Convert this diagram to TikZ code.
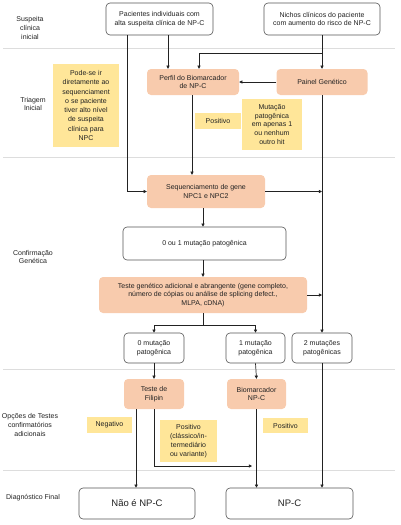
\documentclass[tikz,border=0pt]{standalone}
\usepackage{fontspec}
\setmainfont{Liberation Sans}
\usetikzlibrary{arrows.meta,calc}
\definecolor{peach}{HTML}{F8CBAD}
\definecolor{note}{HTML}{FFE699}
\definecolor{txt}{HTML}{222222}
\definecolor{sep}{HTML}{DDDDDD}
\definecolor{bord}{HTML}{555555}
\tikzset{
  base/.style={align=center, text=txt, font=\fontsize{7}{8.8}\selectfont, inner sep=1pt},
  wbox/.style={base, draw=bord, line width=0.6pt, fill=white, rounded corners=4pt, minimum width=#1},
  pbox/.style={base, fill=peach, rounded corners=4pt, minimum width=#1},
  nbox/.style={base, fill=note, minimum width=#1},
  lab/.style={base},
  conn/.style={draw=txt, line width=0.7pt, -{Triangle[length=3.2pt,width=3.2pt]}},
  plain/.style={draw=txt, line width=0.7pt},
  sepline/.style={draw=sep, line width=1pt}
}
\begin{document}
\begin{tikzpicture}[x=1pt,y=-1pt]
\useasboundingbox (0,0) rectangle (400,525);
% separators
\foreach \yy in {48,157,369,470} \draw[sepline] (3,\yy) -- (395,\yy);
% lane labels
\node[lab] (l1) at (30,28) {Suspeita\\clínica\\inicial};
\node[lab] (l2) at (33,104) {Triagem\\Inicial};
\node[lab] (l3) at (33,257) {Confirmação\\Genética};
\node[lab] (l4) at (30,425) {Opções de Testes\\confirmatórios\\adicionais};
\node[lab] (l5) at (33,498) {Diagnóstico Final};
% top boxes
\node[wbox=107pt, minimum height=32pt] (pac) at (159.5,19) {Pacientes individuais com\\alta suspeita clínica de NP-C};
\node[wbox=116pt, minimum height=32pt] (nic) at (322,19) {Nichos clínicos do paciente\\com aumento do risco de NP-C};
% triagem
\node[pbox=92pt, minimum height=26pt] (perfil) at (193,82) {Perfil do Biomarcador\\de NP-C};
\node[pbox=91pt, minimum height=26pt] (painel) at (322,82) {Painel Genético};
\node[nbox=66pt, minimum height=83pt, font=\fontsize{7}{9.3}\selectfont] (note1) at (86,105.5) {Pode-se ir\\diretamente ao\\sequenciament\\o se paciente\\tiver alto nível\\de suspeita\\clínica para\\NPC};
\node[nbox=46pt, minimum height=16pt] (pos1) at (218,121) {Positivo};
\node[nbox=60pt, minimum height=51pt] (mut) at (272,124.5) {Mutação\\patogênica\\em apenas 1\\ou nenhum\\outro hit};
% confirmação
\node[pbox=118pt, minimum height=33pt] (seq) at (206,191.5) {Sequenciamento de gene\\NPC1 e NPC2};
\node[wbox=163pt, minimum height=33pt] (zero1) at (204.5,243.5) {0 ou 1 mutação patogênica};
\node[pbox=208pt, minimum height=36pt] (teste) at (203,295) {Teste genético adicional e abrangente (gene completo,\\número de cópias ou análise de splicing defect.,\\MLPA, cDNA)};
\node[wbox=60pt, minimum height=30pt] (m0) at (154,348) {0 mutação\\patogênica};
\node[wbox=59pt, minimum height=30pt] (m1) at (255.5,348) {1 mutação\\patogênica};
\node[wbox=60pt, minimum height=30pt] (m2) at (322,348) {2 mutações\\patogênicas};
% opções
\node[pbox=60pt, minimum height=30pt] (fil) at (154,394) {Teste de\\Filipin};
\node[pbox=59pt, minimum height=30pt] (bio) at (256.5,394) {Biomarcador\\NP-C};
\node[nbox=45pt, minimum height=16pt] (neg) at (109.5,425) {Negativo};
\node[nbox=57pt, minimum height=42pt] (pos2) at (188.5,441) {Positivo\\(clássico/in-\\termediário\\ou variante)};
\node[nbox=45pt, minimum height=15pt] (pos3) at (285.5,425.5) {Positivo};
% final
\node[wbox=116pt, minimum height=31pt, font=\fontsize{9.5}{11}\selectfont] (nao) at (137,503.5) {Não é NP-C};
\node[wbox=127pt, minimum height=31pt, font=\fontsize{9.5}{11}\selectfont] (npc) at (289.5,503.5) {NP-C};
% coordinates
\coordinate (pl) at (127,0);
\coordinate (pa) at (168,0);
\coordinate (pb) at (199,0);
\coordinate (br) at (322,53);
\coordinate (sp) at (203,325);
\coordinate (fl) at (136,0);
\coordinate (fr) at (154,466);
\coordinate (fe) at (252,466);
% connectors
\draw[conn] (pac.south -| pa) -- (perfil.north -| pa);
\draw[conn] (pac.south -| pl) |- (seq.west);
\draw[conn] (nic.south) -- (painel.north);
\draw[conn] (br) -| (perfil.north -| pb);
\draw[conn] (painel.west) -- (perfil.east);
\draw[conn] (perfil.south -| 192,0) -- (seq.north -| 192,0);
\draw[conn] (painel.south) -- (m2.north);
\draw[conn] (seq.east) -- (seq.east -| painel.south);
\draw[conn] (teste.east) -- (teste.east -| painel.south);
\draw[conn] (seq.south -| 203,0) -- (zero1.north -| 203,0);
\draw[conn] (zero1.south -| 203,0) -- (teste.north -| 203,0);
\draw[plain] (teste.south -| sp) -- (sp);
\draw[conn] (sp) -| (m0.north);
\draw[conn] (sp) -| (m1.north);
\draw[conn] (m0.south) -- (fil.north);
\draw[conn] (m1.south) -- (bio.north);
\draw[conn] (m2.south) -- (m2.south |- npc.north);
\draw[conn] (fil.south -| fl) -- (nao.north -| fl);
\draw[plain] (fil.south) -- (fr);
\draw[conn] (fr) -- (fe);
\draw[conn] (bio.south) -- (bio.south |- npc.north);
\end{tikzpicture}
\end{document}
